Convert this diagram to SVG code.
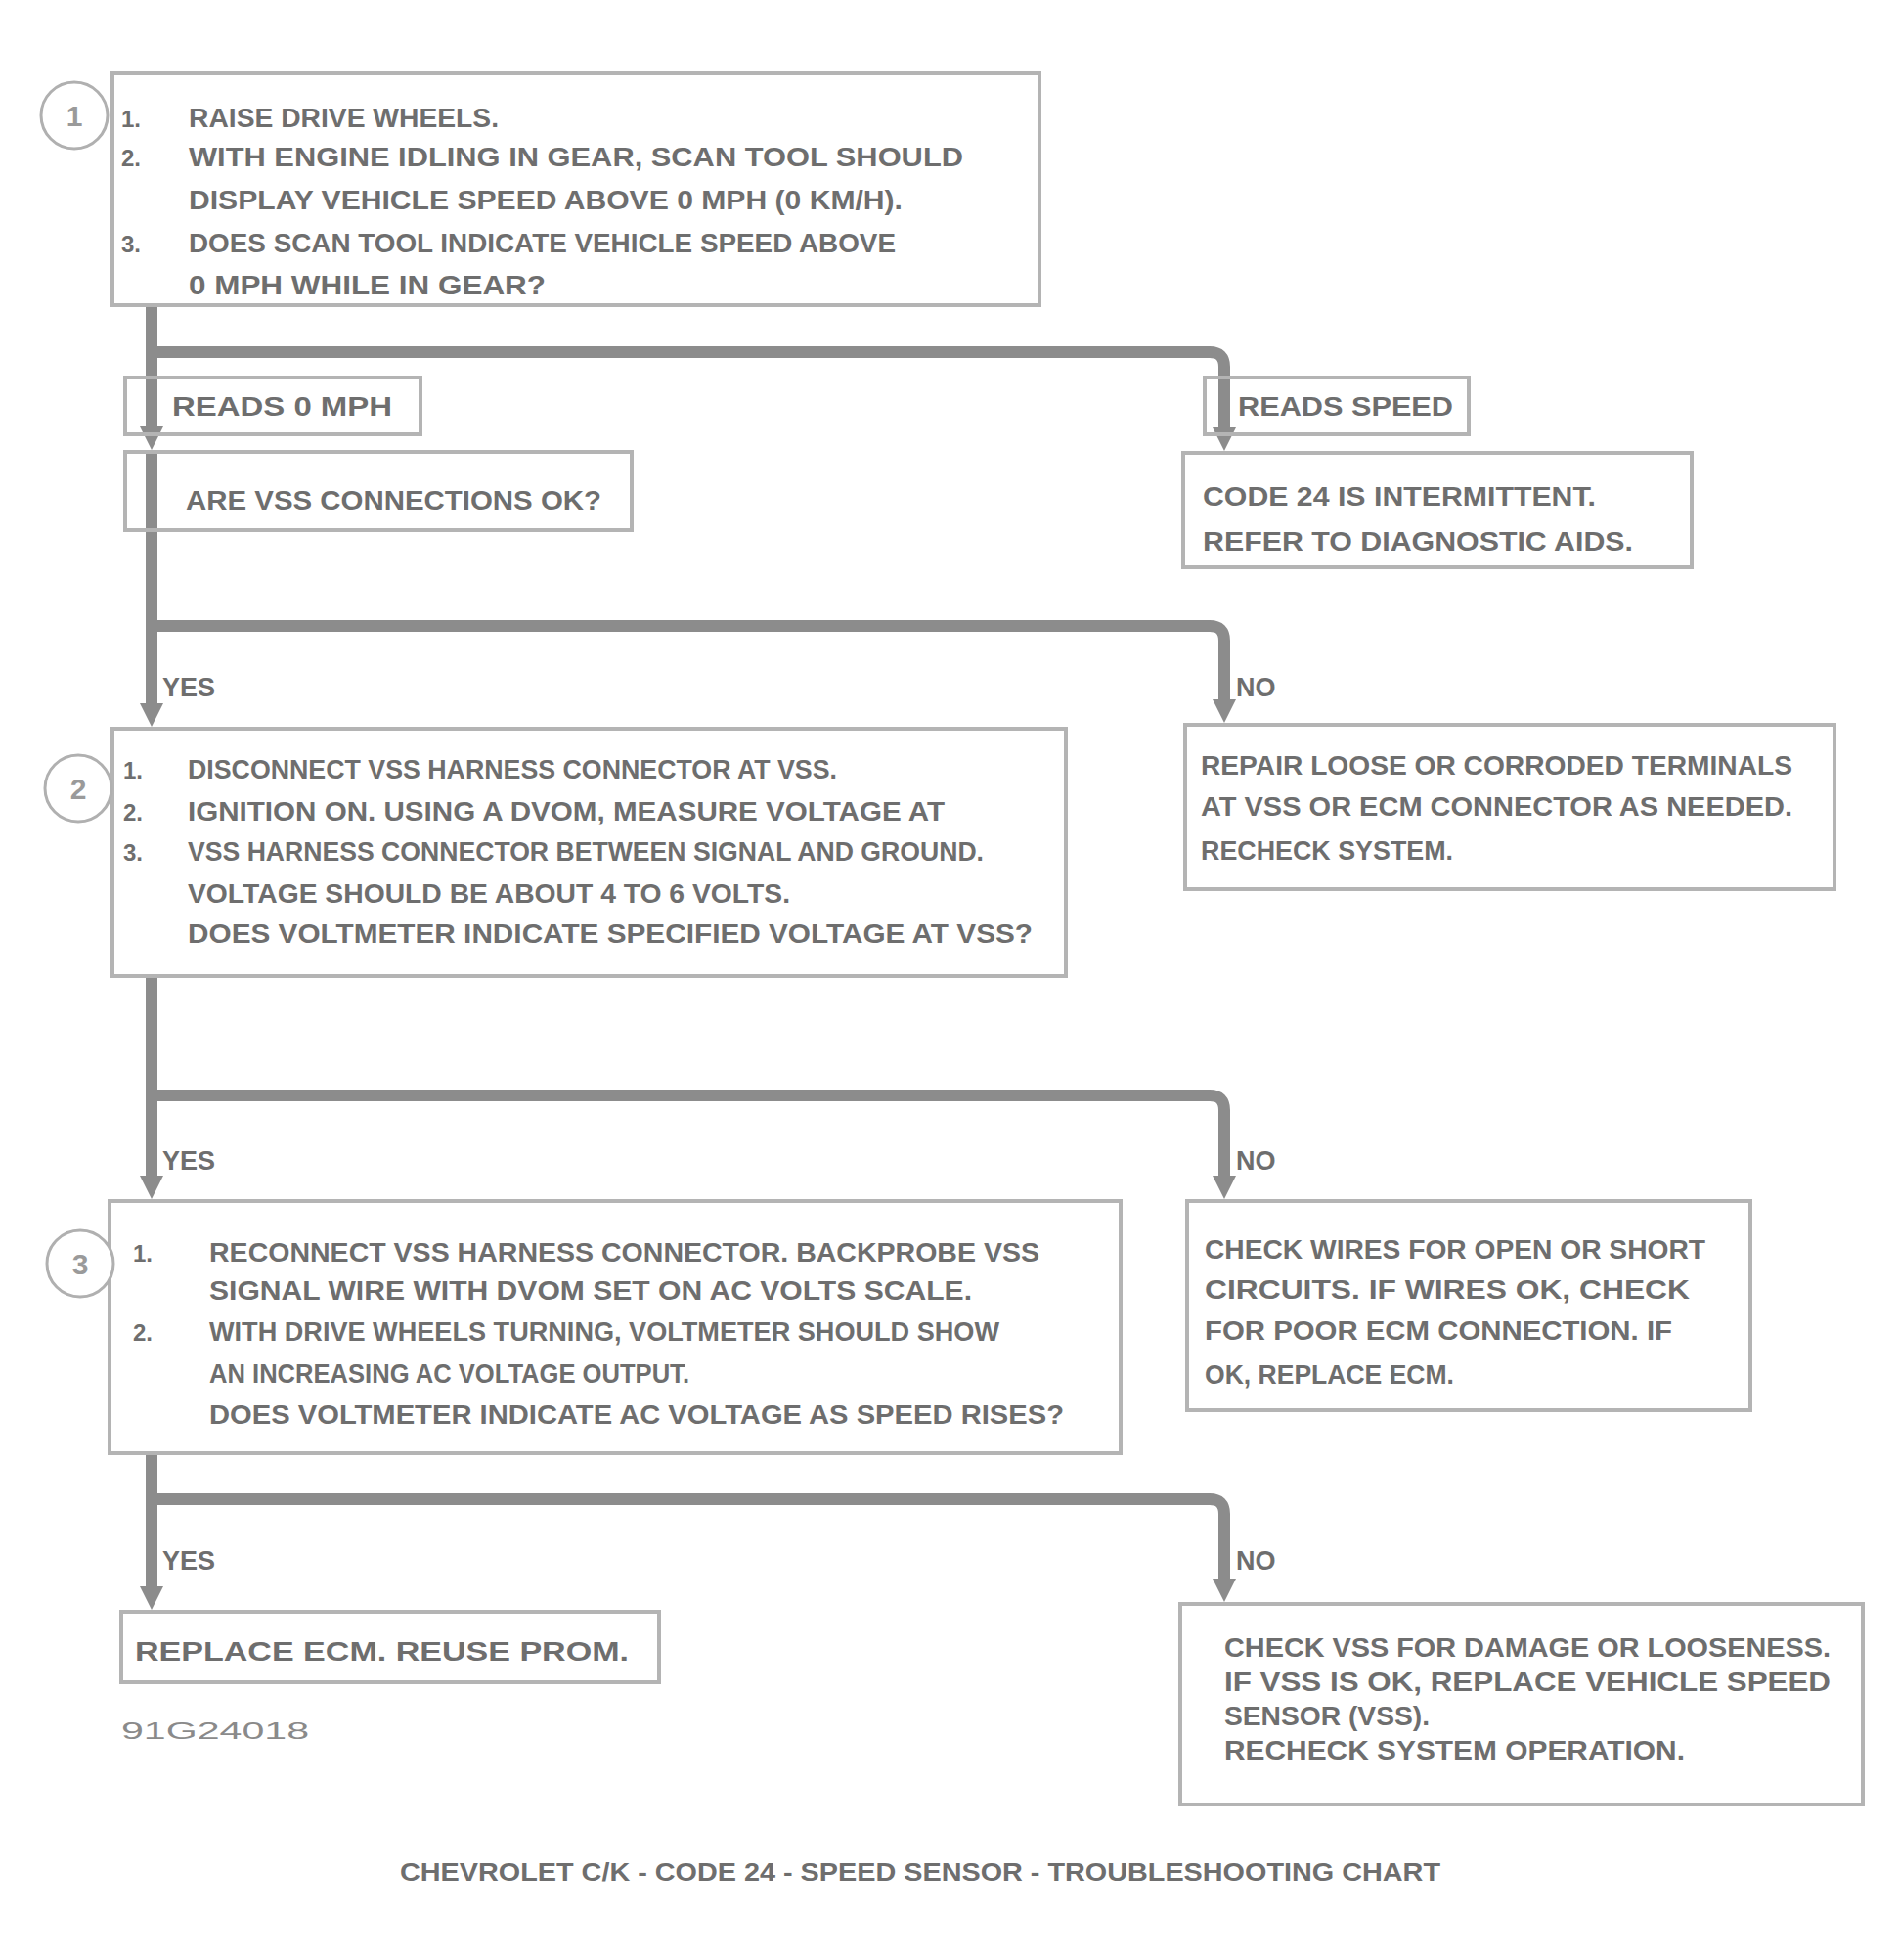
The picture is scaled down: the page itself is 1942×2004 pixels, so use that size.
<svg xmlns="http://www.w3.org/2000/svg" width="1942" height="2004" viewBox="0 0 1942 2004">
<style>
.t{font-family:"Liberation Sans",Arial,sans-serif;font-weight:bold;font-size:27px;fill:#6e6e6e}
.num{font-size:24px}
.lbl{font-size:27px}
.cap{font-size:26px}
.fid{font-size:23px;font-weight:normal;fill:#8a8a8a}
.box{fill:none;stroke:#b4b4b4;stroke-width:4}
.circ{fill:#fff;stroke:#b0b0b0;stroke-width:3}
.cnum{font-size:30px;fill:#9a9a9a;text-anchor:middle}
.conn{fill:none;stroke:#8c8c8c;stroke-width:12}
</style>
<defs>
<marker id="ah" viewBox="0 0 10 10" refX="0" refY="5" markerWidth="24" markerHeight="24" markerUnits="userSpaceOnUse" orient="auto">
<path d="M0,0 L10,5 L0,10 z" fill="#8c8c8c"/>
</marker>
</defs>
<rect width="1942" height="2004" fill="#ffffff"/>

<g id="connectors">
<path class="conn" d="M155,312 V360"/>
<path class="conn" d="M155,360 H1237 Q1252,360 1252,375 V437" marker-end="url(#ah)"/>
<path class="conn" d="M155,360 V436" marker-end="url(#ah)"/>
<path class="conn" d="M155,460 V640"/>
<path class="conn" d="M155,640 H1237 Q1252,640 1252,655 V715" marker-end="url(#ah)"/>
<path class="conn" d="M155,640 V719" marker-end="url(#ah)"/>
<path class="conn" d="M155,998 V1120"/>
<path class="conn" d="M155,1120 H1237 Q1252,1120 1252,1135 V1202" marker-end="url(#ah)"/>
<path class="conn" d="M155,1120 V1202" marker-end="url(#ah)"/>
<path class="conn" d="M155,1486 V1533"/>
<path class="conn" d="M155,1533 H1237 Q1252,1533 1252,1548 V1614" marker-end="url(#ah)"/>
<path class="conn" d="M155,1533 V1622" marker-end="url(#ah)"/>
</g>

<g id="step1">
<rect class="box" x="115" y="75" width="948" height="237"/>
<circle class="circ" cx="76" cy="118" r="34"/>
<text class="t cnum" x="76" y="129">1</text>
<text class="t num" x="124" y="130">1.</text>
<text class="t" x="193" y="130" textLength="317" lengthAdjust="spacingAndGlyphs">RAISE DRIVE WHEELS.</text>
<text class="t num" x="124" y="170">2.</text>
<text class="t" x="193" y="170" textLength="792" lengthAdjust="spacingAndGlyphs">WITH ENGINE IDLING IN GEAR, SCAN TOOL SHOULD</text>
<text class="t" x="193" y="214" textLength="730" lengthAdjust="spacingAndGlyphs">DISPLAY VEHICLE SPEED ABOVE 0 MPH (0 KM/H).</text>
<text class="t num" x="124" y="258">3.</text>
<text class="t" x="193" y="258" textLength="723" lengthAdjust="spacingAndGlyphs">DOES SCAN TOOL INDICATE VEHICLE SPEED ABOVE</text>
<text class="t" x="193" y="301" textLength="365" lengthAdjust="spacingAndGlyphs">0 MPH WHILE IN GEAR?</text>
</g>

<g id="label-no-1">
<rect class="box" x="128" y="386" width="302" height="58"/>
<text class="t lbl" x="176" y="425" textLength="225" lengthAdjust="spacingAndGlyphs">READS 0 MPH</text>
</g>

<g id="label-yes-1">
<rect class="box" x="1232" y="386" width="270" height="58"/>
<text class="t lbl" x="1266" y="425" textLength="220" lengthAdjust="spacingAndGlyphs">READS SPEED</text>
</g>

<g id="check-connections">
<rect class="box" x="128" y="462" width="518" height="80"/>
<text class="t" x="190" y="521" textLength="425" lengthAdjust="spacingAndGlyphs">ARE VSS CONNECTIONS OK?</text>
</g>

<g id="intermittent">
<rect class="box" x="1210" y="463" width="520" height="117"/>
<text class="t" x="1230" y="517" textLength="402" lengthAdjust="spacingAndGlyphs">CODE 24 IS INTERMITTENT.</text>
<text class="t" x="1230" y="563" textLength="440" lengthAdjust="spacingAndGlyphs">REFER TO DIAGNOSTIC AIDS.</text>
</g>

<g id="label-yes-2"><text class="t lbl" x="166" y="712">YES</text></g>
<g id="label-no-2"><text class="t lbl" x="1264" y="712">NO</text></g>

<g id="step2">
<rect class="box" x="115" y="745" width="975" height="253"/>
<circle class="circ" cx="80" cy="806" r="34"/>
<text class="t cnum" x="80" y="817">2</text>
<text class="t num" x="126" y="796">1.</text>
<text class="t" x="192" y="796" textLength="664" lengthAdjust="spacingAndGlyphs">DISCONNECT VSS HARNESS CONNECTOR AT VSS.</text>
<text class="t num" x="126" y="839">2.</text>
<text class="t" x="192" y="839" textLength="774" lengthAdjust="spacingAndGlyphs">IGNITION ON. USING A DVOM, MEASURE VOLTAGE AT</text>
<text class="t num" x="126" y="880">3.</text>
<text class="t" x="192" y="880" textLength="814" lengthAdjust="spacingAndGlyphs">VSS HARNESS CONNECTOR BETWEEN SIGNAL AND GROUND.</text>
<text class="t" x="192" y="923" textLength="616" lengthAdjust="spacingAndGlyphs">VOLTAGE SHOULD BE ABOUT 4 TO 6 VOLTS.</text>
<text class="t" x="192" y="964" textLength="864" lengthAdjust="spacingAndGlyphs">DOES VOLTMETER INDICATE SPECIFIED VOLTAGE AT VSS?</text>
</g>

<g id="repair-connections">
<rect class="box" x="1212" y="741" width="664" height="168"/>
<text class="t" x="1228" y="792" textLength="605" lengthAdjust="spacingAndGlyphs">REPAIR LOOSE OR CORRODED TERMINALS</text>
<text class="t" x="1228" y="834" textLength="605" lengthAdjust="spacingAndGlyphs">AT VSS OR ECM CONNECTOR AS NEEDED.</text>
<text class="t" x="1228" y="879" textLength="258" lengthAdjust="spacingAndGlyphs">RECHECK SYSTEM.</text>
</g>

<g id="label-yes-3"><text class="t lbl" x="166" y="1196">YES</text></g>
<g id="label-no-3"><text class="t lbl" x="1264" y="1196">NO</text></g>

<g id="step3">
<rect class="box" x="112" y="1228" width="1034" height="258"/>
<circle class="circ" cx="82" cy="1292" r="34"/>
<text class="t cnum" x="82" y="1303">3</text>
<text class="t num" x="136" y="1290">1.</text>
<text class="t" x="214" y="1290" textLength="849" lengthAdjust="spacingAndGlyphs">RECONNECT VSS HARNESS CONNECTOR. BACKPROBE VSS</text>
<text class="t" x="214" y="1329" textLength="780" lengthAdjust="spacingAndGlyphs">SIGNAL WIRE WITH DVOM SET ON AC VOLTS SCALE.</text>
<text class="t num" x="136" y="1371">2.</text>
<text class="t" x="214" y="1371" textLength="808" lengthAdjust="spacingAndGlyphs">WITH DRIVE WHEELS TURNING, VOLTMETER SHOULD SHOW</text>
<text class="t" x="214" y="1414" textLength="491" lengthAdjust="spacingAndGlyphs">AN INCREASING AC VOLTAGE OUTPUT.</text>
<text class="t" x="214" y="1456" textLength="874" lengthAdjust="spacingAndGlyphs">DOES VOLTMETER INDICATE AC VOLTAGE AS SPEED RISES?</text>
</g>

<g id="check-wiring">
<rect class="box" x="1214" y="1228" width="576" height="214"/>
<text class="t" x="1232" y="1287" textLength="512" lengthAdjust="spacingAndGlyphs">CHECK WIRES FOR OPEN OR SHORT</text>
<text class="t" x="1232" y="1328" textLength="496" lengthAdjust="spacingAndGlyphs">CIRCUITS. IF WIRES OK, CHECK</text>
<text class="t" x="1232" y="1370" textLength="478" lengthAdjust="spacingAndGlyphs">FOR POOR ECM CONNECTION. IF</text>
<text class="t" x="1232" y="1415" textLength="255" lengthAdjust="spacingAndGlyphs">OK, REPLACE ECM.</text>
</g>

<g id="label-yes-4"><text class="t lbl" x="166" y="1605">YES</text></g>
<g id="label-no-4"><text class="t lbl" x="1264" y="1605">NO</text></g>

<g id="replace-ecm">
<rect class="box" x="124" y="1648" width="550" height="72"/>
<text class="t" x="138" y="1698" font-size="30" textLength="505" lengthAdjust="spacingAndGlyphs">REPLACE ECM. REUSE PROM.</text>
</g>

<g id="replace-vss">
<rect class="box" x="1207" y="1640" width="698" height="205"/>
<text class="t" x="1252" y="1694" font-size="26" textLength="620" lengthAdjust="spacingAndGlyphs">CHECK VSS FOR DAMAGE OR LOOSENESS.</text>
<text class="t" x="1252" y="1729" font-size="26" textLength="620" lengthAdjust="spacingAndGlyphs">IF VSS IS OK, REPLACE VEHICLE SPEED</text>
<text class="t" x="1252" y="1764" font-size="26" textLength="210" lengthAdjust="spacingAndGlyphs">SENSOR (VSS).</text>
<text class="t" x="1252" y="1799" font-size="26" textLength="471" lengthAdjust="spacingAndGlyphs">RECHECK SYSTEM OPERATION.</text>
</g>

<g id="figure-id">
<text class="t fid" x="124" y="1778" textLength="192" lengthAdjust="spacingAndGlyphs">91G24018</text>
</g>

<g id="caption">
<text class="t cap" x="409" y="1923" textLength="1064" lengthAdjust="spacingAndGlyphs">CHEVROLET C/K - CODE 24 - SPEED SENSOR - TROUBLESHOOTING CHART</text>
</g>
</svg>
